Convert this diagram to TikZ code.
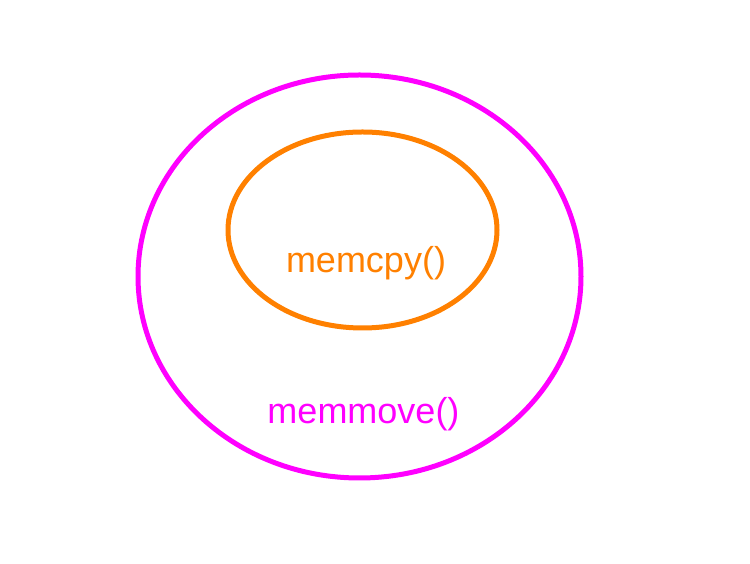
\documentclass[tikz,border=0pt]{standalone}
\usepackage{fontspec}
\setmainfont{Liberation Sans}
\usetikzlibrary{shapes.geometric}
\definecolor{mag}{HTML}{FF00FF}
\definecolor{org}{HTML}{FF8000}
\begin{document}
\begin{tikzpicture}[x=1pt,y=1pt,
  ring/.style={ellipse, line width=5pt, inner sep=0pt, outer sep=0pt},
  lbl/.style={font=\fontsize{36}{40}\selectfont, inner sep=0pt}]
\useasboundingbox (0,0) rectangle (750,564);
\node[ring, draw=mag, minimum width=443pt, minimum height=403pt] (outer) at (359.5,287.5) {};
\node[ring, draw=org, minimum width=269pt, minimum height=196pt] (inner) at (362.5,334) {};
\node[lbl, text=org] (cpy) at (366,301) {memcpy()};
\node[lbl, text=mag] (move) at (363.5,150) {memmove()};
\end{tikzpicture}
\end{document}
